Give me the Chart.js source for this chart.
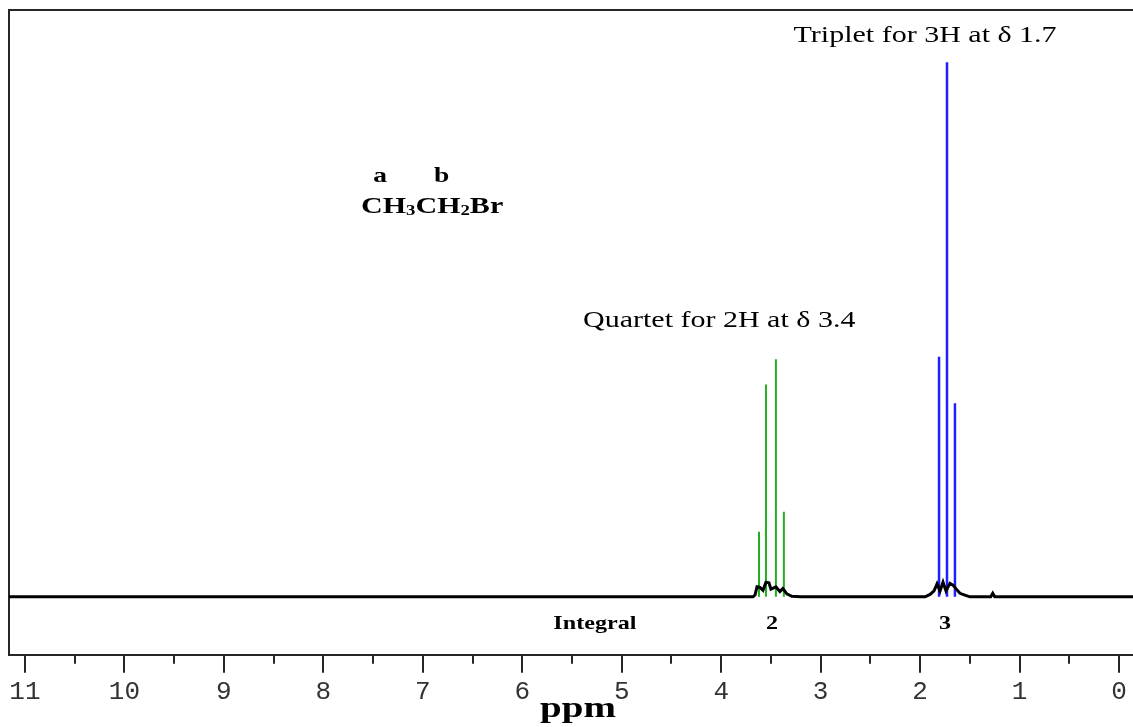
<!DOCTYPE html>
<html><head><meta charset="utf-8">
<script src="https://cdn.jsdelivr.net/npm/chart.js@4.4.1/dist/chart.umd.min.js"></script>
<style>html,body{margin:0;padding:0;background:#fff;}#wrap{width:1133px;height:727px;position:relative;}</style>
</head><body><div id="wrap"><canvas id="c"></canvas></div>
<script>
// ---- data ----
const tickLabels = [11, 10, 9, 8, 7, 6, 5, 4, 3, 2, 1, 0];
const minorTicks = [10.5, 9.5, 8.5, 7.5, 6.5, 5.5, 4.5, 3.5, 2.5, 1.5, 0.5];
const quartetPPM = [3.62, 3.55, 3.45, 3.37];
const quartetHeight = [11.1, 36.2, 40.5, 14.5];
const tripletPPM = [1.81, 1.73, 1.65];
const tripletHeight = [40.9, 91.1, 33.0];
const tracePPM = [11.16, 3.68, 3.66, 3.64, 3.61, 3.58, 3.55, 3.52, 3.50, 3.45, 3.41, 3.38, 3.34, 3.29, 3.20,
                  1.95, 1.90, 1.86, 1.83, 1.80, 1.77, 1.74, 1.70, 1.67, 1.64, 1.60, 1.55, 1.50, 1.29, 1.27, 1.25, -0.14];
const traceValue = [0, 0, 0.3, 1.7, 1.6, 1.1, 2.5, 2.4, 1.3, 1.7, 0.9, 1.4, 0.5, 0.1, 0,
                    0, 0.4, 1.0, 2.2, 1.0, 2.5, 1.0, 2.3, 2.0, 1.4, 0.6, 0.3, 0, 0, 0.6, 0, 0];
const integralValues = ['2', '3'];
const integralPPM = [3.49, 1.75];

// ---- build datasets ----
function sticks(ppm, h) {
  const out = [];
  ppm.forEach((p, i) => { out.push({x: p, y: 0}, {x: p, y: h[i]}, {x: p, y: null}); });
  return out;
}
const traceData = tracePPM.map((p, i) => ({x: p, y: traceValue[i]}));

const FRAME = '#262626';

const overlay = {
  id: 'overlay',
  afterDraw(chart) {
    const ctx = chart.ctx, xs = chart.scales.x, ys = chart.scales.y, area = chart.chartArea;
    ctx.save();
    // minor ticks
    ctx.strokeStyle = FRAME; ctx.lineWidth = 2;
    minorTicks.forEach(v => {
      const px = Math.round(xs.getPixelForValue(v));
      ctx.beginPath(); ctx.moveTo(px, area.bottom); ctx.lineTo(px, area.bottom + 9); ctx.stroke();
    });
    function txt(t, ppm, val, font, sx, align) {
      ctx.save();
      ctx.font = font; ctx.fillStyle = '#000'; ctx.textBaseline = 'alphabetic'; ctx.textAlign = align || 'center';
      ctx.translate(xs.getPixelForValue(ppm), ys.getPixelForValue(val));
      ctx.scale(sx, 1);
      ctx.fillText(t, 0, 0);
      ctx.restore();
    }
    const serif = "'Liberation Serif', 'Times New Roman', serif";
    txt('Triplet for 3H at \u03b4 1.7', 1.95, 94.5, '24px ' + serif, 1.25);
    txt('Quartet for 2H at \u03b4 3.4', 4.02, 46.0, '24px ' + serif, 1.25);
    txt('a', 7.43, 70.75, 'bold 22px ' + serif, 1.25);
    txt('b', 6.81, 70.75, 'bold 22px ' + serif, 1.25);
    txt('Integral', 5.27, -5.45, 'bold 19px ' + serif, 1.27);
    integralValues.forEach((t, i) => txt(t, integralPPM[i], -5.45, 'bold 19px ' + serif, 1.27));
    txt('ppm', 5.44, -20.4, 'bold 30px ' + serif, 1.3);
    // formula with subscripts
    const parts = [['CH', 24, 0], ['3', 15, 2], ['CH', 24, 0], ['2', 15, 2], ['Br', 24, 0]];
    let px = xs.getPixelForValue(7.62);
    const py = ys.getPixelForValue(65.4);
    const sx = 1.25;
    parts.forEach(([t, size, dy]) => {
      ctx.save();
      ctx.font = 'bold ' + size + 'px ' + serif; ctx.fillStyle = '#000';
      ctx.textBaseline = 'alphabetic'; ctx.textAlign = 'left';
      ctx.translate(px, py + dy); ctx.scale(sx, 1);
      ctx.fillText(t, 0, 0);
      px += ctx.measureText(t).width * sx;
      ctx.restore();
    });
    ctx.restore();
  }
};

new Chart(document.getElementById('c'), {
  type: 'line',
  data: {
    datasets: [
      {label: 'trace', data: traceData, borderColor: '#000', borderWidth: 3, pointRadius: 0, tension: 0, order: 0},
      {label: 'quartet', data: sticks(quartetPPM, quartetHeight), borderColor: '#22b022', borderWidth: 2, pointRadius: 0, spanGaps: false, order: 1},
      {label: 'triplet', data: sticks(tripletPPM, tripletHeight), borderColor: '#1f1fff', borderWidth: 2.5, pointRadius: 0, spanGaps: false, order: 1}
    ]
  },
  options: {
    responsive: true, maintainAspectRatio: false, animation: false,
    layout: {padding: {left: 9, top: 10, right: 0, bottom: 15}},
    plugins: {legend: {display: false}, tooltip: {enabled: false}},
    scales: {
      x: {
        type: 'linear', position: 'bottom', reverse: true, min: -0.14, max: 11.16,
        afterBuildTicks: s => { s.ticks = tickLabels.map(v => ({value: v})); },
        border: {display: true, color: FRAME, width: 2},
        grid: {display: true, drawOnChartArea: false, drawTicks: true, tickLength: 18, color: FRAME, lineWidth: 2},
        ticks: {color: '#333', font: {family: "'Liberation Mono', monospace", size: 26}, padding: 4, maxRotation: 0, autoSkip: false,
                callback: v => String(v)}
      },
      xTop: {
        type: 'linear', position: 'top', min: -0.14, max: 11.16, reverse: true,
        border: {display: true, color: FRAME, width: 2},
        grid: {display: false, drawTicks: false}, ticks: {display: false}
      },
      y: {
        type: 'linear', position: 'left', min: -9.88, max: 100,
        border: {display: true, color: FRAME, width: 2},
        grid: {display: false, drawTicks: false}, ticks: {display: false}
      }
    }
  },
  plugins: [overlay]
});
</script></body></html>
